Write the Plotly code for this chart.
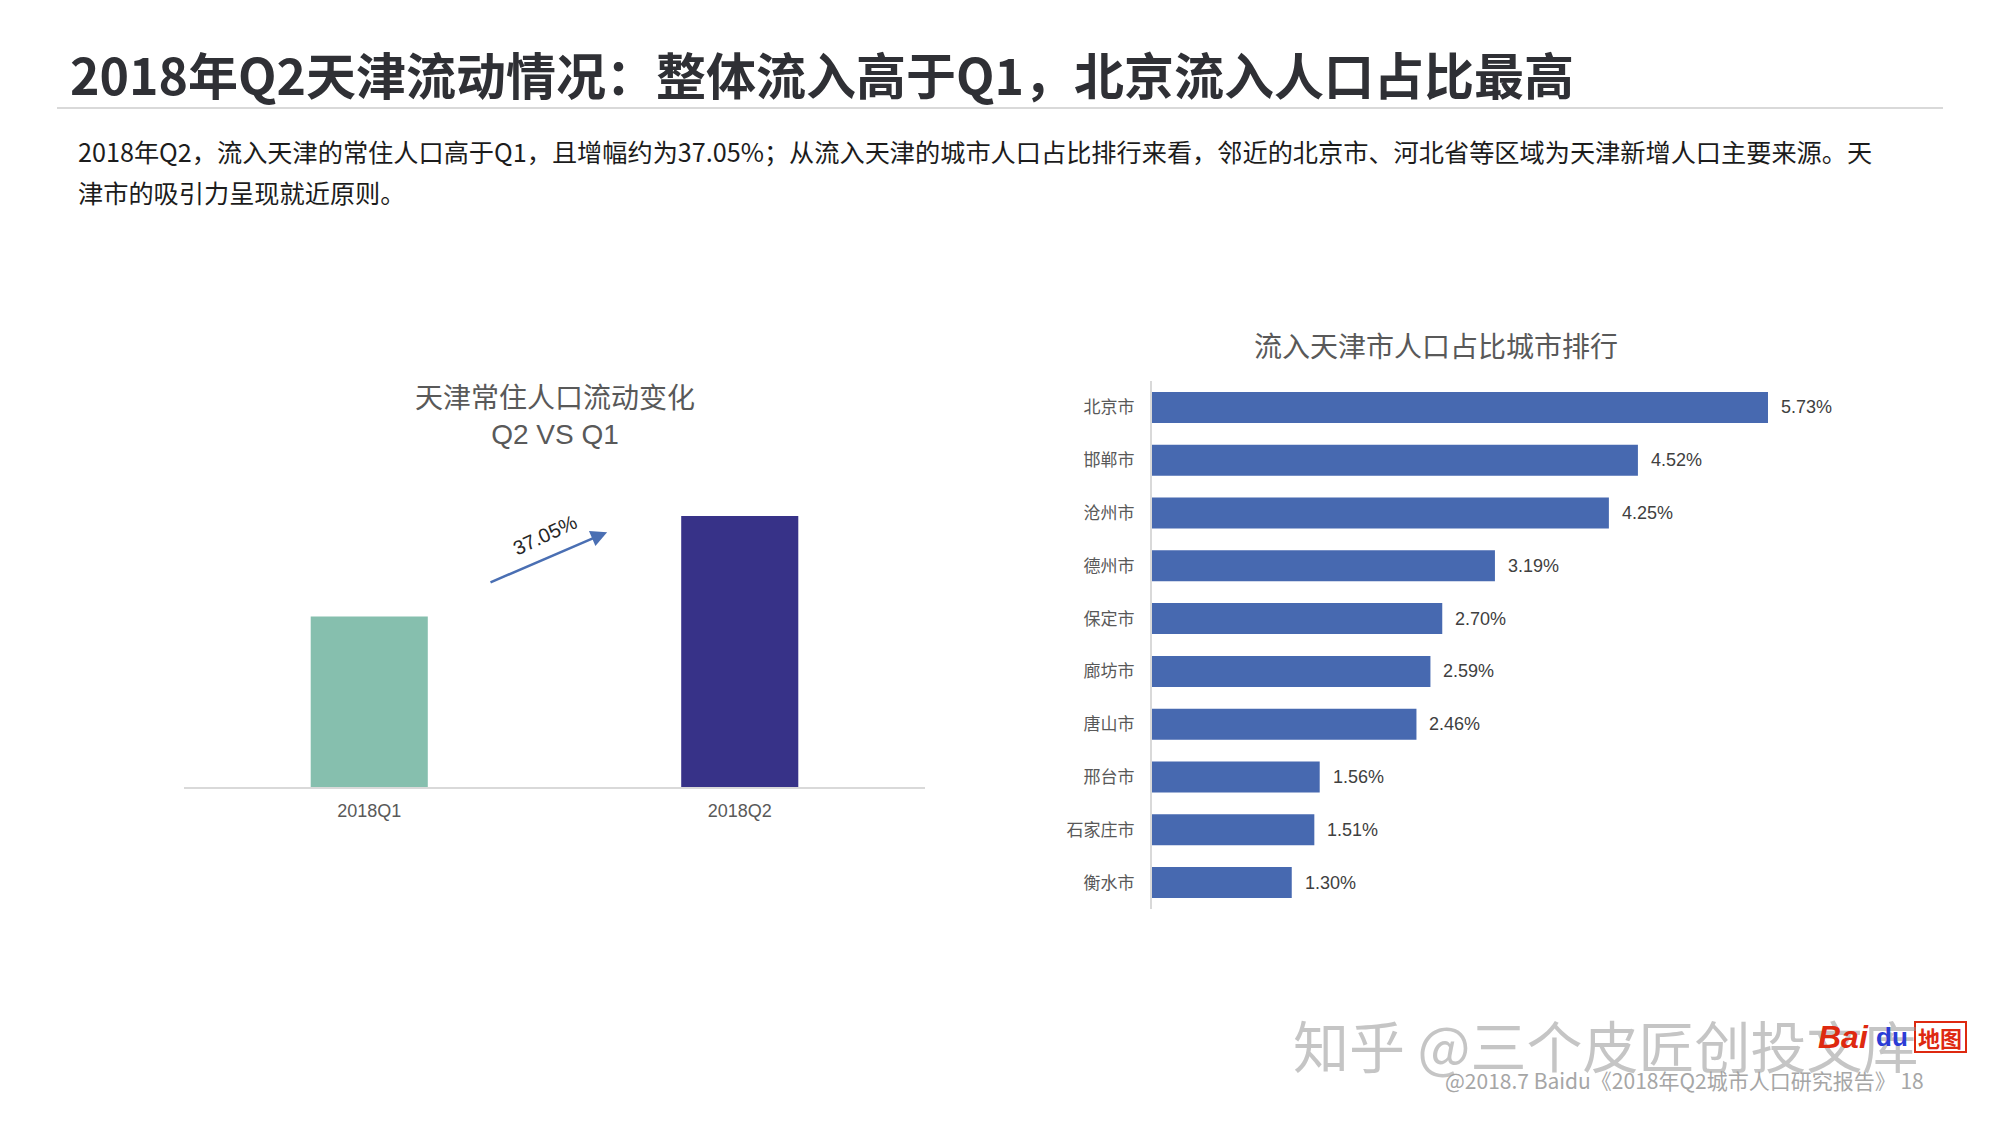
import plotly.graph_objects as go

W, H = 2000, 1125
OFF = 8  # page body margin compensation

# ---------------- data ----------------
quarters = ["2018Q1", "2018Q2"]
quarter_values = [1.00, 1.59]          # relative bar heights
quarter_colors = ["#86BFAE", "#373288"]
growth_label = "37.05%"

cities = ["北京市", "邯郸市", "沧州市", "德州市", "保定市",
          "廊坊市", "唐山市", "邢台市", "石家庄市", "衡水市"]
city_shares = [5.73, 4.52, 4.25, 3.19, 2.70, 2.59, 2.46, 1.56, 1.51, 1.30]

title = "2018年Q2天津流动情况：整体流入高于Q1，北京流入人口占比最高"
subtitle_lines = [
    "2018年Q2，流入天津的常住人口高于Q1，且增幅约为37.05%；从流入天津的城市人口占比排行来看，邻近的北京市、河北省等区域为天津新增人口主要来源。天",
    "津市的吸引力呈现就近原则。",
]
left_title = "天津常住人口流动变化<br>Q2 VS Q1"
right_title = "流入天津市人口占比城市排行"
footer = "@2018.7 Baidu《2018年Q2城市人口研究报告》 18"
watermark = "知乎 @三个皮匠创投文库"

CJK = "Noto Sans CJK SC"
ARIAL = "Liberation Sans, Arial, Noto Sans CJK SC"


def px(x):
    return (x - OFF) / W


def py(y):
    return 1 - (y - OFF) / H


fig = go.Figure()

# left chart
fig.add_trace(go.Bar(
    x=quarters, y=quarter_values, marker=dict(color=quarter_colors, line=dict(width=0)),
    width=0.316, xaxis="x", yaxis="y", hoverinfo="skip",
))

# right chart
fig.add_trace(go.Bar(
    x=city_shares, y=cities, orientation="h",
    marker=dict(color="#4769B0", line=dict(width=0)),
    width=0.587, xaxis="x2", yaxis="y2", hoverinfo="skip",
))

annotations = []

# value labels on right bars
for c, v in zip(cities, city_shares):
    annotations.append(dict(
        x=v, y=c, xref="x2", yref="y2", text=f"{v:.2f}%", showarrow=False,
        xanchor="left", xshift=11, font=dict(family=ARIAL, size=18, color="#404040"),
    ))

# main title
annotations.append(dict(
    x=px(68), y=py(73), xref="paper", yref="paper", xanchor="left", yanchor="middle",
    text=f"<b>{title}</b>", showarrow=False,
    font=dict(family=CJK, size=50, color="#2f3035"),
))

# subtitle
for line, yy in zip(subtitle_lines, [151, 192]):
    annotations.append(dict(
        x=px(76), y=py(yy), xref="paper", yref="paper", xanchor="left", yanchor="middle",
        text=line, showarrow=False, font=dict(family=CJK, size=25.2, color="#1c1c1c"),
    ))

# chart titles
annotations.append(dict(
    x=px(555), y=py(416), xref="paper", yref="paper", xanchor="center", yanchor="middle",
    text=left_title, showarrow=False, font=dict(family=ARIAL, size=28, color="#595959"),
))
annotations.append(dict(
    x=px(1436), y=py(347), xref="paper", yref="paper", xanchor="center", yanchor="middle",
    text=right_title, showarrow=False, font=dict(family=ARIAL, size=28, color="#595959"),
))

# growth arrow and label
annotations.append(dict(
    x=0.571, y=0.804, xref="x domain", yref="y domain",
    ax=0.4116, ay=0.6435, axref="x domain", ayref="y domain",
    showarrow=True, arrowhead=2, arrowsize=1.3, arrowwidth=2.5, arrowcolor="#4A6FB3", text="",
))
annotations.append(dict(
    x=px(545), y=py(535), xref="paper", yref="paper", xanchor="center", yanchor="middle",
    text=growth_label, textangle=-25, showarrow=False,
    font=dict(family=ARIAL, size=20, color="#262626"),
))

# footer
annotations.append(dict(
    x=px(1926), y=py(1080), xref="paper", yref="paper", xanchor="right", yanchor="middle",
    text=footer, showarrow=False, font=dict(family=CJK, size=21, color="#a6a6a6"),
))

# watermark
annotations.append(dict(
    x=px(1606), y=py(1043), xref="paper", yref="paper", xanchor="center", yanchor="middle",
    text=watermark, showarrow=False, font=dict(family=CJK, size=56, color="rgba(150,150,150,0.55)"),
))

# baidu logo (approximation)
annotations.append(dict(
    x=px(1843), y=py(1037), xref="paper", yref="paper", xanchor="center", yanchor="middle",
    text="<b><i>Bai</i></b>", showarrow=False, font=dict(family=ARIAL, size=32, color="#DE2910"),
))
annotations.append(dict(
    x=px(1892), y=py(1037), xref="paper", yref="paper", xanchor="center", yanchor="middle",
    text="<b>du</b>", showarrow=False, font=dict(family=ARIAL, size=26, color="#2B3CD6"),
))
annotations.append(dict(
    x=px(1940), y=py(1037), xref="paper", yref="paper", xanchor="center", yanchor="middle",
    text="<b>地图</b>", showarrow=False, font=dict(family=CJK, size=22, color="#DE2910"),
))

shapes = [
    dict(type="line", xref="paper", yref="paper", x0=px(57), x1=px(1943), y0=py(108), y1=py(108),
         line=dict(color="#d9d9d9", width=2)),
    dict(type="rect", xref="paper", yref="paper", x0=px(1915), x1=px(1966), y0=py(1052), y1=py(1022),
         line=dict(color="#DE2910", width=2)),
]

fig.update_layout(
    width=W, height=H,
    margin=dict(l=0, r=0, t=0, b=0),
    paper_bgcolor="white", plot_bgcolor="white",
    showlegend=False,
    annotations=annotations,
    shapes=shapes,
    xaxis=dict(
        domain=[px(184), px(925)], anchor="y", type="category",
        showline=True, linecolor="#d9d9d9", linewidth=2, showgrid=False, zeroline=False,
        ticks="", tickfont=dict(family=ARIAL, size=18, color="#595959"), ticklabelstandoff=6,
        fixedrange=True,
    ),
    yaxis=dict(
        domain=[py(787), py(470)], anchor="x", range=[0, 1.86], visible=False, fixedrange=True,
    ),
    xaxis2=dict(
        domain=[px(1152), px(1940)], anchor="y2", range=[0, 7.33], visible=False, fixedrange=True,
    ),
    yaxis2=dict(
        domain=[py(909), py(381)], anchor="x2", type="category",
        categoryorder="array", categoryarray=cities, range=[len(cities) - 0.5, -0.5],
        showline=True, linecolor="#d9d9d9", linewidth=2, showgrid=False, zeroline=False,
        ticks="", tickfont=dict(family=ARIAL, size=17, color="#595959"), ticklabelstandoff=12,
        fixedrange=True,
    ),
)

fig.write_html("out.html")
